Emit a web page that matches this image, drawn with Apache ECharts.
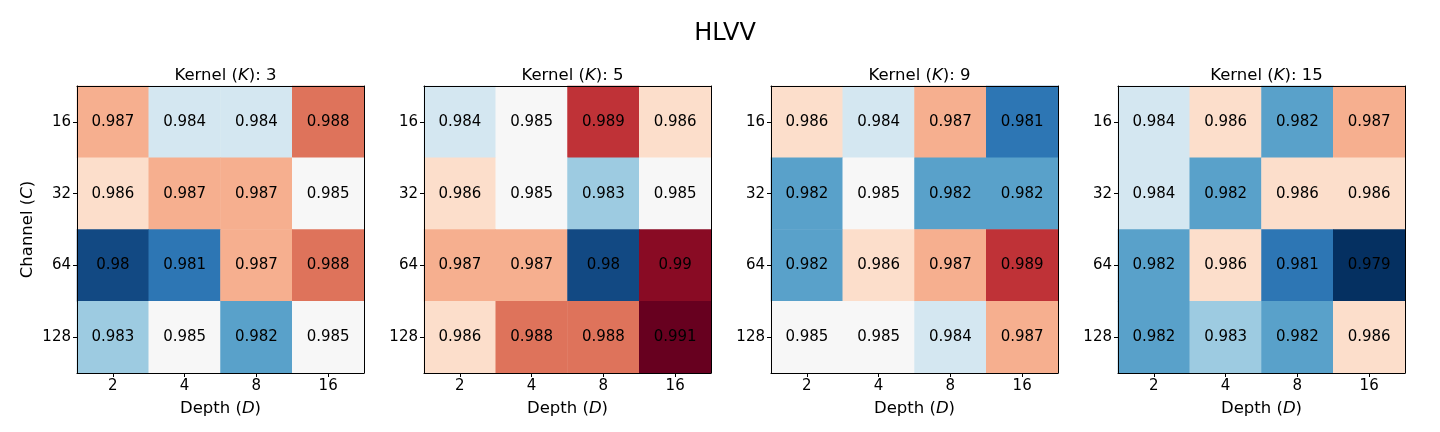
<!DOCTYPE html>
<html>
<head>
<meta charset="utf-8">
<script src="https://cdn.jsdelivr.net/npm/echarts@6/dist/echarts.min.js"></script>
<style>
  html, body { margin: 0; padding: 0; background: #fff; }
  #main { width: 1440px; height: 432px; }
</style>
</head>
<body>
<div id="main"></div>
<script>
// HLVV 热力图
var depths = ["2", "4", "8", "16"];
var channels = ["16", "32", "64", "128"];
var kernels = ["3", "5", "9", "15"];

// rows = channel, cols = depth
var k3 = [
  [0.987, 0.984, 0.984, 0.988],
  [0.986, 0.987, 0.987, 0.985],
  [0.98, 0.981, 0.987, 0.988],
  [0.983, 0.985, 0.982, 0.985],
];
var k5 = [
  [0.984, 0.985, 0.989, 0.986],
  [0.986, 0.985, 0.983, 0.985],
  [0.987, 0.987, 0.98, 0.99],
  [0.986, 0.988, 0.988, 0.991],
];
var k9 = [
  [0.986, 0.984, 0.987, 0.981],
  [0.982, 0.985, 0.982, 0.982],
  [0.982, 0.986, 0.987, 0.989],
  [0.985, 0.985, 0.984, 0.987],
];
var k15 = [
  [0.984, 0.986, 0.982, 0.987],
  [0.984, 0.982, 0.986, 0.986],
  [0.982, 0.986, 0.981, 0.979],
  [0.982, 0.983, 0.982, 0.986],
];
var panels = [k3, k5, k9, k15];

(function () {
  var myChart = echarts.init(document.getElementById("main"));
  var font = "DejaVu Sans";
  // RdBu_r
  var rdbu = ["#053061", "#2166ac", "#4393c3", "#92c5de", "#d1e5f0", "#f7f7f7",
    "#fddbc7", "#f4a582", "#d6604d", "#b2182b", "#67001f"];
  var lefts = [77, 424, 771, 1118];
  var size = 287;
  var top = 86;

  var grid = [], xAxis = [], yAxis = [], series = [];
  var title = [{
    text: "HLVV",
    left: 720,
    top: 17,
    textAlign: "center",
    textStyle: { fontFamily: font, fontSize: 24, fontWeight: "normal", color: "#000" },
  }];

  var frame = { show: true, lineStyle: { color: "#000", width: 1 } };
  var italic = { i: { fontFamily: font, fontSize: 16.5, fontStyle: "italic", color: "#000" } };

  panels.forEach(function (m, p) {
    grid.push({ left: lefts[p], top: top, width: size, height: size });
    title.push({
      text: "Kernel ({i|K}): " + kernels[p],
      left: lefts[p] + size / 2,
      top: 62,
      textAlign: "center",
      textStyle: {
        fontFamily: font, fontSize: 16.5, fontWeight: "normal", color: "#000",
        rich: italic,
      },
    });
    // bottom x axis
    xAxis.push({
      type: "category", gridIndex: p, data: depths, position: "bottom", z: 5,
      axisLine: frame,
      axisTick: { show: true, alignWithLabel: true, length: 4, lineStyle: { color: "#000" } },
      axisLabel: { fontFamily: font, fontSize: 15, color: "#000", margin: 6 },
      splitLine: { show: false },
      name: "Depth ({i|D})",
      nameLocation: "middle",
      nameGap: 27,
      nameTextStyle: { fontFamily: font, fontSize: 16.5, color: "#000", rich: italic },
    });
    // top frame line
    xAxis.push({
      type: "category", gridIndex: p, data: depths, position: "top", z: 5,
      axisLine: frame, axisTick: { show: false }, axisLabel: { show: false },
    });
    var ya = {
      type: "category", gridIndex: p, data: channels, inverse: true, position: "left", z: 5,
      axisLine: frame,
      axisTick: { show: true, alignWithLabel: true, length: 4, lineStyle: { color: "#000" } },
      axisLabel: { fontFamily: font, fontSize: 15, color: "#000", margin: 6 },
      splitLine: { show: false },
    };
    if (p === 0) {
      ya.name = "Channel ({i|C})";
      ya.nameLocation = "middle";
      ya.nameGap = 41;
      ya.nameTextStyle = { fontFamily: font, fontSize: 16.5, color: "#000", rich: italic };
    }
    yAxis.push(ya);
    // right frame line
    yAxis.push({
      type: "category", gridIndex: p, data: channels, inverse: true, position: "right", z: 5,
      axisLine: frame, axisTick: { show: false }, axisLabel: { show: false },
    });

    var data = [];
    m.forEach(function (row, r) {
      row.forEach(function (v, c) {
        data.push([c, r, v]);
      });
    });
    series.push({
      type: "heatmap",
      xAxisIndex: p * 2,
      yAxisIndex: p * 2,
      data: data,
      label: {
        show: true,
        fontFamily: font,
        fontSize: 15,
        color: "#000",
        formatter: function (d) { return String(d.value[2]); },
      },
      emphasis: { disabled: true },
    });
  });

  var option = {
    backgroundColor: "#fff",
    animation: false,
    title: title,
    grid: grid,
    xAxis: xAxis,
    yAxis: yAxis,
    visualMap: {
      type: "continuous",
      show: false,
      min: 0.9795,
      max: 0.9905,
      dimension: 2,
      inRange: { color: rdbu },
    },
    series: series,
  };
  myChart.setOption(option);
  window.addEventListener("resize", function () {
    myChart.resize();
  });
})();
</script>
</body>
</html>
